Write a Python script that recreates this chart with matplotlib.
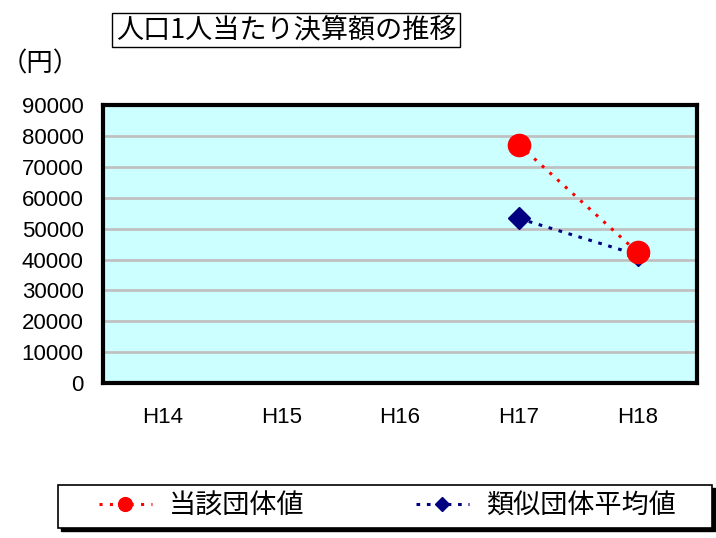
import matplotlib.pyplot as plt
from matplotlib.patches import Rectangle
import numpy as np

plt.rcParams['font.family'] = ['Liberation Sans', 'Noto Sans CJK JP']

years = ['H14', 'H15', 'H16', 'H17', 'H18']
# 当該団体値 / 類似団体平均値 (H17, H18 のみ)
own_values = [np.nan, np.nan, np.nan, 77200, 42300]
similar_values = [np.nan, np.nan, np.nan, 53300, 41500]

fig = plt.figure(figsize=(7.16, 5.38), dpi=100)
ax = fig.add_axes([0.1439, 0.288, 0.8296, 0.5167])
ax.set_facecolor('#CCFFFF')

x = np.arange(len(years))
ax.plot(x, similar_values, color='#000080', linestyle=(0, (1.2, 2.2)), linewidth=2.2,
        marker='D', markersize=11, label='類似団体平均値', zorder=3)
ax.plot(x, own_values, color='#FF0000', linestyle=(0, (1.0, 2.4)), linewidth=2.2,
        marker='o', markersize=16, label='当該団体値', zorder=4)

ax.set_xlim(-0.5, len(years) - 0.5)
ax.set_ylim(0, 90000)
ax.set_yticks(np.arange(0, 90001, 10000))
ax.set_xticks(x)
ax.set_xticklabels(years)
ax.tick_params(axis='both', length=0, labelsize=16)
ax.tick_params(axis='x', pad=17)
ax.tick_params(axis='y', pad=14)
ax.yaxis.grid(True, color='#C0C0C0', linewidth=2)
ax.set_axisbelow(True)
for s in ax.spines.values():
    s.set_linewidth(3)
    s.set_color('black')

fig.text(0.4, 0.944, '人口1人当たり決算額の推移', fontsize=19.5, ha='center', va='center',
         family='Noto Sans CJK JP',
         bbox=dict(facecolor='white', edgecolor='black', linewidth=1, boxstyle='square,pad=0.14'))
fig.text(0.001, 0.881, '（円）', fontsize=19, ha='left', va='center', family='Noto Sans CJK JP')

# 凡例の枠（影付き）
bx, by, bw, bh = 58 / 716, 1 - 528 / 538, 654 / 716, 43 / 538
fig.patches.append(Rectangle((bx + 3 / 716, by - 3 / 538), bw, bh, transform=fig.transFigure,
                             facecolor='black', edgecolor='black', zorder=1))
fig.patches.append(Rectangle((bx, by), bw, bh, transform=fig.transFigure,
                             facecolor='white', edgecolor='black', linewidth=1.2, zorder=2))

h, l = ax.get_legend_handles_labels()
leg = fig.legend([h[1], h[0]], [l[1], l[0]], loc='center', bbox_to_anchor=(0.541, 0.0595),
                 ncol=2, frameon=False, columnspacing=4.1, handlelength=1.96,
                 handletextpad=0.63, markerscale=0.62,
                 prop={'family': 'Noto Sans CJK JP', 'size': 19.5})
leg.set_zorder(3)

fig.savefig('out.png', dpi=100)
